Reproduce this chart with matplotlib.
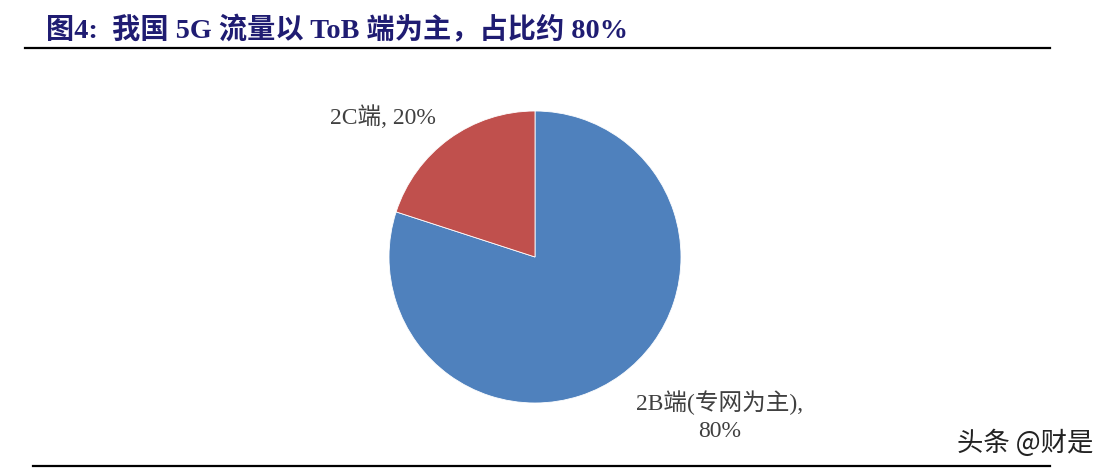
import matplotlib
matplotlib.use("Agg")
import matplotlib.pyplot as plt
from matplotlib.lines import Line2D

title = "图4:  我国 5G 流量以 ToB 端为主，占比约 80%"
labels = ["2B端(专网为主),\n80%", "2C端, 20%"]
values = [80, 20]
colors = ["#4F81BD", "#C0504D"]
watermark = "头条 @财是"

W, H = 1109, 476
fig = plt.figure(figsize=(W / 100, H / 100), dpi=100)
fig.patch.set_facecolor("white")

serif = ["Liberation Serif", "Noto Sans CJK SC", "DejaVu Sans"]

def fx(x):
    return x / W

def fy(y):
    return 1 - y / H

# title
fig.text(fx(46), fy(30), title, family=serif, fontsize=20.3, fontweight="bold",
         color="#1F1C72", ha="left", va="center")
# rules
fig.add_artist(Line2D([fx(25), fx(1050)], [fy(48), fy(48)], color="black", lw=1.6))
fig.add_artist(Line2D([fx(33), fx(1050)], [fy(466), fy(466)], color="black", lw=1.6))

# pie
cx, cy, r = 535, 257, 146
ax = fig.add_axes([fx(cx - r), fy(cy + r), 2 * r / W, 2 * r / H])
ax.pie(values, colors=colors, startangle=90, counterclock=False,
       wedgeprops=dict(edgecolor="white", linewidth=0.6))
ax.set_xlim(-1, 1)
ax.set_ylim(-1, 1)
ax.set_aspect("auto")
ax.axis("off")

# labels
fig.text(fx(383), fy(117), labels[1], family=serif, fontsize=17, color="#404040",
         ha="center", va="center")
fig.text(fx(720), fy(416), labels[0], family=serif, fontsize=17, color="#404040",
         ha="center", va="center", linespacing=1.4)

# watermark
fig.text(fx(1093), fy(443), watermark, family=["Noto Sans CJK SC", "DejaVu Sans"],
         fontsize=19, color="#222222", ha="right", va="center")

fig.savefig("out.png", dpi=100, facecolor="white")
